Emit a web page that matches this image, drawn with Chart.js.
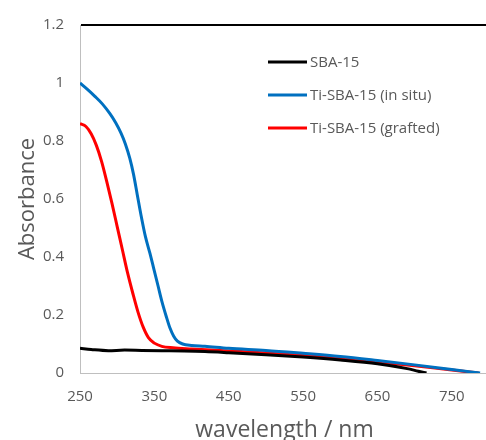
<!DOCTYPE html>
<html>
<head>
<meta charset="utf-8">
<script src="https://cdn.jsdelivr.net/npm/chart.js@4"></script>
<style>
  html,body{margin:0;padding:0;background:#fff;overflow:hidden;}
  #wrap{position:relative;width:489px;height:440px;}
</style>
</head>
<body>
<div id="wrap"><canvas id="c"></canvas></div>
<script>
// Data
const seriesNames = ["SBA-15", "Ti-SBA-15 (in situ)", "Ti-SBA-15 (grafted)"];
const seriesColors = ["#000000", "#0070C0", "#FF0000"];

const sbaX = [250, 265, 288, 310, 333, 360, 390, 418, 450, 500, 550, 600, 650, 690, 705, 716];
const sbaY = [0.085, 0.081, 0.077, 0.079, 0.078, 0.077, 0.076, 0.074, 0.070, 0.063, 0.055, 0.045, 0.032, 0.015, 0.006, 0.0];

const insituX = [250, 260, 270, 280, 290, 298, 305, 311, 317, 322, 327, 332, 338, 344, 349, 355, 360, 366, 371, 376, 381, 388, 400, 418, 450, 500, 550, 600, 650, 700, 750, 788];
const insituY = [1.0, 0.978, 0.954, 0.928, 0.895, 0.863, 0.828, 0.79, 0.74, 0.685, 0.615, 0.545, 0.47, 0.413, 0.362, 0.30, 0.248, 0.195, 0.155, 0.127, 0.11, 0.10, 0.095, 0.092, 0.085, 0.078, 0.068, 0.057, 0.043, 0.028, 0.012, 0.0];

const graftX = [250, 258, 265, 272, 279, 286, 293, 300, 307, 314, 321, 328, 335, 342, 350, 360, 375, 400, 450, 500, 550, 600, 650, 700, 750, 786];
const graftY = [0.86, 0.85, 0.825, 0.785, 0.73, 0.66, 0.585, 0.505, 0.425, 0.345, 0.275, 0.21, 0.158, 0.122, 0.103, 0.092, 0.087, 0.083, 0.076, 0.069, 0.060, 0.050, 0.038, 0.025, 0.010, 0.0];

const xTicks = [250, 350, 450, 550, 650, 750];
const yTicks = [0, 0.2, 0.4, 0.6, 0.8, 1, 1.2];

const toPts = (xs, ys) => xs.map((x, i) => ({x, y: ys[i]}));

const FONT = "'Open Sans', sans-serif";
const GREY = "#595959";

// legend drawn inside the plot area, like the original
const insideLegend = {
  id: "insideLegend",
  afterDraw(chart){
    const ctx = chart.ctx;
    ctx.save();
    ctx.font = "15px " + FONT;
    ctx.textBaseline = "middle";
    chart.data.datasets.forEach((ds, i) => {
      const y = 62 + i * 33;
      ctx.strokeStyle = ds.borderColor;
      ctx.lineWidth = 3;
      ctx.beginPath();
      ctx.moveTo(268, y);
      ctx.lineTo(307, y);
      ctx.stroke();
      ctx.fillStyle = GREY;
      ctx.fillText(ds.label, 310, y + 1);
    });
    ctx.restore();
  }
};

new Chart(document.getElementById("c"), {
  type: "line",
  data: {
    datasets: [
      {label: seriesNames[0], data: toPts(sbaX, sbaY), borderColor: seriesColors[0]},
      {label: seriesNames[1], data: toPts(insituX, insituY), borderColor: seriesColors[1]},
      {label: seriesNames[2], data: toPts(graftX, graftY), borderColor: seriesColors[2]}
    ]
  },
  options: {
    responsive: true,
    maintainAspectRatio: false,
    animation: false,
    layout: {padding: {top: 19, right: 0, left: 0, bottom: 0}},
    elements: {
      line: {borderWidth: 3, cubicInterpolationMode: "monotone", fill: false},
      point: {radius: 0}
    },
    plugins: {legend: {display: false}, tooltip: {enabled: false}},
    scales: {
      x: {
        type: "linear",
        min: 250, max: 800,
        afterBuildTicks: s => { s.ticks = xTicks.map(v => ({value: v})); },
        afterFit: s => { s.height = 67; },
        grid: {display: false, drawTicks: false},
        border: {display: true, color: "#BFBFBF", width: 1},
        ticks: {color: GREY, font: {family: FONT, size: 15}, padding: 15, maxRotation: 0},
        title: {display: true, text: "wavelength / nm", color: GREY,
                font: {family: FONT, size: 23, lineHeight: 1}, padding: {top: 0, bottom: -2}}
      },
      y: {
        min: 0, max: 1.2,
        afterBuildTicks: s => { s.ticks = yTicks.map(v => ({value: v})); },
        afterFit: s => { s.width = 80; },
        grid: {
          drawTicks: false,
          color: c => Math.abs(c.tick.value - 1.2) < 1e-6 ? "#000000" : "rgba(0,0,0,0)",
          lineWidth: c => Math.abs(c.tick.value - 1.2) < 1e-6 ? 2 : 0
        },
        border: {display: true, color: "#BFBFBF", width: 1},
        ticks: {color: GREY, font: {family: FONT, size: 15}, padding: 16,
                callback: v => String(+v.toFixed(1))},
        title: {display: true, text: "Absorbance", color: GREY,
                font: {family: FONT, size: 22, lineHeight: 1}, padding: {top: 17, bottom: 0}}
      }
    }
  },
  plugins: [insideLegend]
});
</script>
</body>
</html>
